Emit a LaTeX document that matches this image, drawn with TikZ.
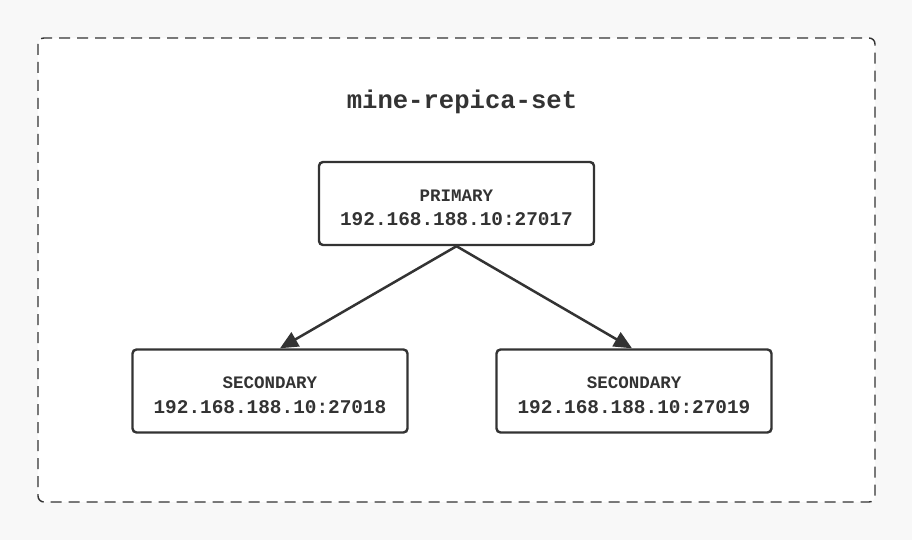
\documentclass[tikz,border=0pt]{standalone}
\usepackage{fontspec}
\setmainfont{Liberation Mono}
\usetikzlibrary{arrows.meta}
\definecolor{ink}{HTML}{333333}
\definecolor{paper}{HTML}{F8F8F8}

\newcommand{\hostlbl}[2]{{\fontsize{17.5}{24}\selectfont\rule{0pt}{20.5pt}#1}\\{#2}}

\begin{document}
\begin{tikzpicture}[x=1pt, y=-1pt, font=\bfseries, text=ink,
    member/.style={draw=ink, line width=2.4pt, rounded corners=4pt, fill=white,
                   minimum width=275pt, minimum height=83pt, align=center,
                   inner sep=0pt, font=\bfseries\fontsize{19.4}{24.5}\selectfont},
    repl/.style={draw=ink, line width=2.5pt, -{Triangle[length=18pt, width=16pt]}}]
  \fill[paper] (0,0) rectangle (912,540);
  \useasboundingbox (0,0) rectangle (912,540);
  % replica set frame
  \draw[ink, line width=1.4pt, fill=white, rounded corners=6pt,
        dash pattern=on 11pt off 7pt] (38,38) rectangle (875,502);
  \node[font=\bfseries\fontsize{25.6}{28}\selectfont] (title) at (462,102) {mine-repica-set};
  % members
  \node[member] (primary) at (456.5,203.5) {\hostlbl{PRIMARY}{192.168.188.10:27017}};
  \foreach \n/\px/\port in {sec1/270/27018, sec2/634/27019}
    \node[member] (\n) at (\px,391) {\hostlbl{SECONDARY}{192.168.188.10:\port}};
  % replication
  \draw[repl] (primary.south) -- ([xshift=10pt]sec1.north);
  \draw[repl] (primary.south) -- ([xshift=-2pt]sec2.north);
\end{tikzpicture}
\end{document}
